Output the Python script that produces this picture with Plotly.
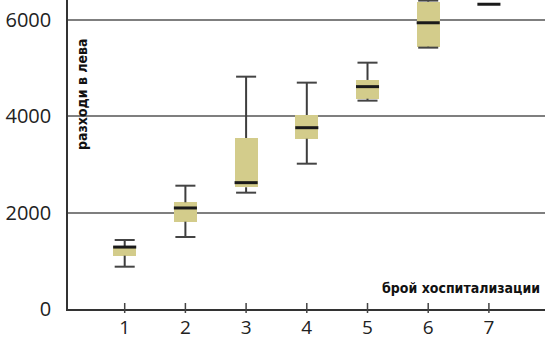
import plotly.graph_objects as go

categories = [1, 2, 3, 4, 5, 6, 7]
lower_whisker = [879, 1496, 2417, 3019, 4329, 5430, 6332]
q1 = [1108, 1814, 2529, 3539, 4370, 5450, 6332]
median = [1287, 2099, 2625, 3767, 4620, 5947, 6332]
q3 = [1305, 2217, 3553, 4031, 4759, 6386, 6332]
upper_whisker = [1434, 2562, 4827, 4703, 5118, 6408, 6332]
y_ticks = [0, 2000, 4000, 6000]
x_title = "брой хоспитализации"
y_title = "разходи в лева"

BOX_W = 0.38
CAP_W = 0.33
FILL = "#d3cc8b"

fig = go.Figure()

fig.add_trace(go.Bar(
    x=categories, base=q1, y=[b - a for a, b in zip(q1, q3)],
    width=BOX_W, marker=dict(color=FILL, line=dict(width=0)),
    hoverinfo="skip", showlegend=False,
))

wx, wy = [], []
for c, lw, a, b, uw in zip(categories, lower_whisker, q1, q3, upper_whisker):
    if lw < a:
        wx += [c, c, None]
        wy += [lw, a, None]
    if uw > b:
        wx += [c, c, None]
        wy += [b, uw, None]
fig.add_trace(go.Scatter(x=wx, y=wy, mode="lines",
                         line=dict(color="#3d3d3d", width=2),
                         hoverinfo="skip", showlegend=False))

cx, cy = [], []
for c, lw, uw, m in zip(categories, lower_whisker, upper_whisker, median):
    if lw == uw == m:
        continue
    for v in (lw, uw):
        cx += [c - CAP_W / 2, c + CAP_W / 2, None]
        cy += [v, v, None]
fig.add_trace(go.Scatter(x=cx, y=cy, mode="lines",
                         line=dict(color="#444444", width=2),
                         hoverinfo="skip", showlegend=False))

mx, my = [], []
for c, m in zip(categories, median):
    mx += [c - BOX_W / 2, c + BOX_W / 2, None]
    my += [m, m, None]
fig.add_trace(go.Scatter(x=mx, y=my, mode="lines",
                         line=dict(color="#1a1a1a", width=3),
                         hoverinfo="skip", showlegend=False))

# x ticks crossing the axis line
for c in categories:
    fig.add_shape(type="line", xref="x", yref="paper", x0=c, x1=c,
                  y0=-4 / 309, y1=6 / 309, line=dict(color="#444444", width=1.5))

tick_font = dict(family="Open Sans, Noto Sans, sans-serif", size=20, color="#222222")
x_tick_font = dict(family="Open Sans, Noto Sans, sans-serif", size=19, color="#222222")
title_font = dict(family="DejaVu Sans Condensed, Liberation Sans Narrow, sans-serif",
                  size=14, color="#111111", weight="bold")

fig.update_layout(
    width=545, height=338,
    margin=dict(l=68, r=0, t=0, b=29, autoexpand=False),
    paper_bgcolor="white", plot_bgcolor="white",
    bargap=0, hovermode=False,
    xaxis=dict(range=[0.066, 7.924], tickvals=categories,
               ticktext=[str(c) for c in categories],
               showgrid=False, zeroline=False, automargin=False,
               showline=True, linecolor="#333333", linewidth=1.5,
               ticks="", tickfont=x_tick_font, ticklabelstandoff=0),
    yaxis=dict(range=[0, 6420], tickvals=y_ticks,
               ticktext=[str(v) for v in y_ticks],
               showgrid=True, gridcolor="#7f7f7f", gridwidth=1.5,
               zeroline=False, automargin=False,
               showline=True, linecolor="#333333", linewidth=1.5,
               ticks="", tickfont=tick_font, ticklabelstandoff=11),
    annotations=[
        dict(text=y_title, xref="paper", yref="paper",
             x=(82 - 68) / 477, y=(309 - 94) / 309,
             xanchor="center", yanchor="middle", textangle=-90,
             showarrow=False, font=title_font),
        dict(text=x_title, xref="paper", yref="paper",
             x=(542 - 68) / 477, y=(309 - 287.5) / 309,
             xanchor="right", yanchor="middle",
             showarrow=False, font=title_font),
    ],
)

fig.write_html("out.html")
